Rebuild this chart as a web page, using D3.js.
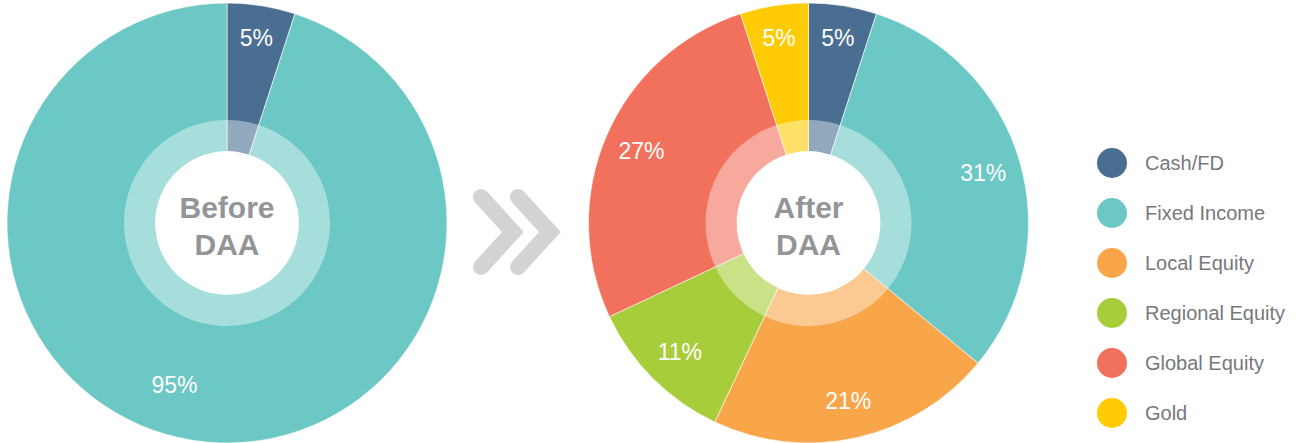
<!DOCTYPE html>
<html>
<head>
<meta charset="utf-8">
<script src="https://cdn.jsdelivr.net/npm/d3@7"></script>
<style>
  body { margin: 0; background: #fff; }
  svg { display: block; }
</style>
</head>
<body>
<svg id="chart" width="1296" height="443"></svg>
<script>
// asset classes + colours (legend order)
const categories = ["Cash/FD", "Fixed Income", "Local Equity", "Regional Equity", "Global Equity", "Gold"];
const colors = ["#4a6e91", "#6cc8c5", "#f9a54a", "#a8cd3a", "#f2715c", "#ffcb05"];

// allocation in percent, same order as categories
const beforeValues = [5, 95, 0, 0, 0, 0];
const afterValues = [5, 31, 21, 11, 27, 5];

const titles = [["Before", "DAA"], ["After", "DAA"]];

const svg = d3.select("#chart");
const color = d3.scaleOrdinal().domain(categories).range(colors);

const R = 220, ringR = 103, holeR = 72;

const pie = d3.pie().sort(null).value(d => d.value);
const arc = d3.arc().innerRadius(0).outerRadius(R);
const ringArc = d3.arc().innerRadius(holeR).outerRadius(ringR);

/** draws one donut at cx, cy */
function drawPie(cx, cy, values, title, labelNudge) {
    let data = categories.map((c, i) => ({ key: c, value: values[i] }))
        .filter(d => d.value > 0);
    let arcs = pie(data);
    let g = svg.append("g").attr("transform", `translate(${cx},${cy})`);

    g.selectAll("path.slice")
        .data(arcs)
        .join("path")
        .attr("class", "slice")
        .attr("d", arc)
        .attr("fill", d => color(d.data.key))
        .attr("stroke", "#fff")
        .attr("stroke-width", 0.6);

    // pale inner ring
    g.selectAll("path.ring")
        .data(arcs)
        .join("path")
        .attr("class", "ring")
        .attr("d", ringArc)
        .attr("fill", "#fff")
        .attr("fill-opacity", 0.4);

    g.append("circle").attr("r", holeR).attr("fill", "#fff");

    // percent labels
    g.selectAll("text.pct")
        .data(arcs)
        .join("text")
        .attr("class", "pct")
        .attr("transform", d => {
            let a = (d.startAngle + d.endAngle) / 2 + (labelNudge[d.data.key] || 0) * Math.PI / 180;
            let r = d.value > 50 ? 170 : (d.value < 8 ? 188 : 182);
            return `translate(${r * Math.sin(a)},${-r * Math.cos(a)})`;
        })
        .attr("text-anchor", "middle")
        .attr("dy", "0.36em")
        .attr("fill", "#fff")
        .style("font-family", "'Liberation Sans', Arial, sans-serif")
        .style("font-size", "23px")
        .text(d => d.value + "%");

    g.selectAll("text.title")
        .data(title)
        .join("text")
        .attr("class", "title")
        .attr("text-anchor", "middle")
        .attr("y", (d, i) => -5 + i * 37)
        .attr("fill", "#939598")
        .style("font-family", "'Liberation Sans', Arial, sans-serif")
        .style("font-weight", "bold")
        .style("font-size", "30px")
        .text(d => d);
}

drawPie(227, 223, beforeValues, titles[0], { "Fixed Income": 9 });
drawPie(808.5, 223, afterValues, titles[1], {});

// the double chevron between the pies
let chev = svg.append("g").attr("fill", "none").attr("stroke", "#d1d3d4")
    .attr("stroke-width", 16).attr("stroke-linecap", "round").attr("stroke-linejoin", "miter");
[0, 37].forEach(dx => {
    chev.append("path")
        .attr("d", d3.line()([[481 + dx, 197], [513 + dx, 232], [481 + dx, 267]]));
});

// legend
let legend = svg.append("g").attr("transform", "translate(1112,163)");
let item = legend.selectAll("g")
    .data(categories)
    .join("g")
    .attr("transform", (d, i) => `translate(0,${i * 50})`);
item.append("circle").attr("r", 15).attr("fill", d => color(d));
item.append("text")
    .attr("x", 33)
    .attr("dy", "0.35em")
    .attr("fill", "#77787b")
    .style("font-family", "'Liberation Sans', Arial, sans-serif")
    .style("font-size", "20px")
    .text(d => d);
</script>
</body>
</html>
